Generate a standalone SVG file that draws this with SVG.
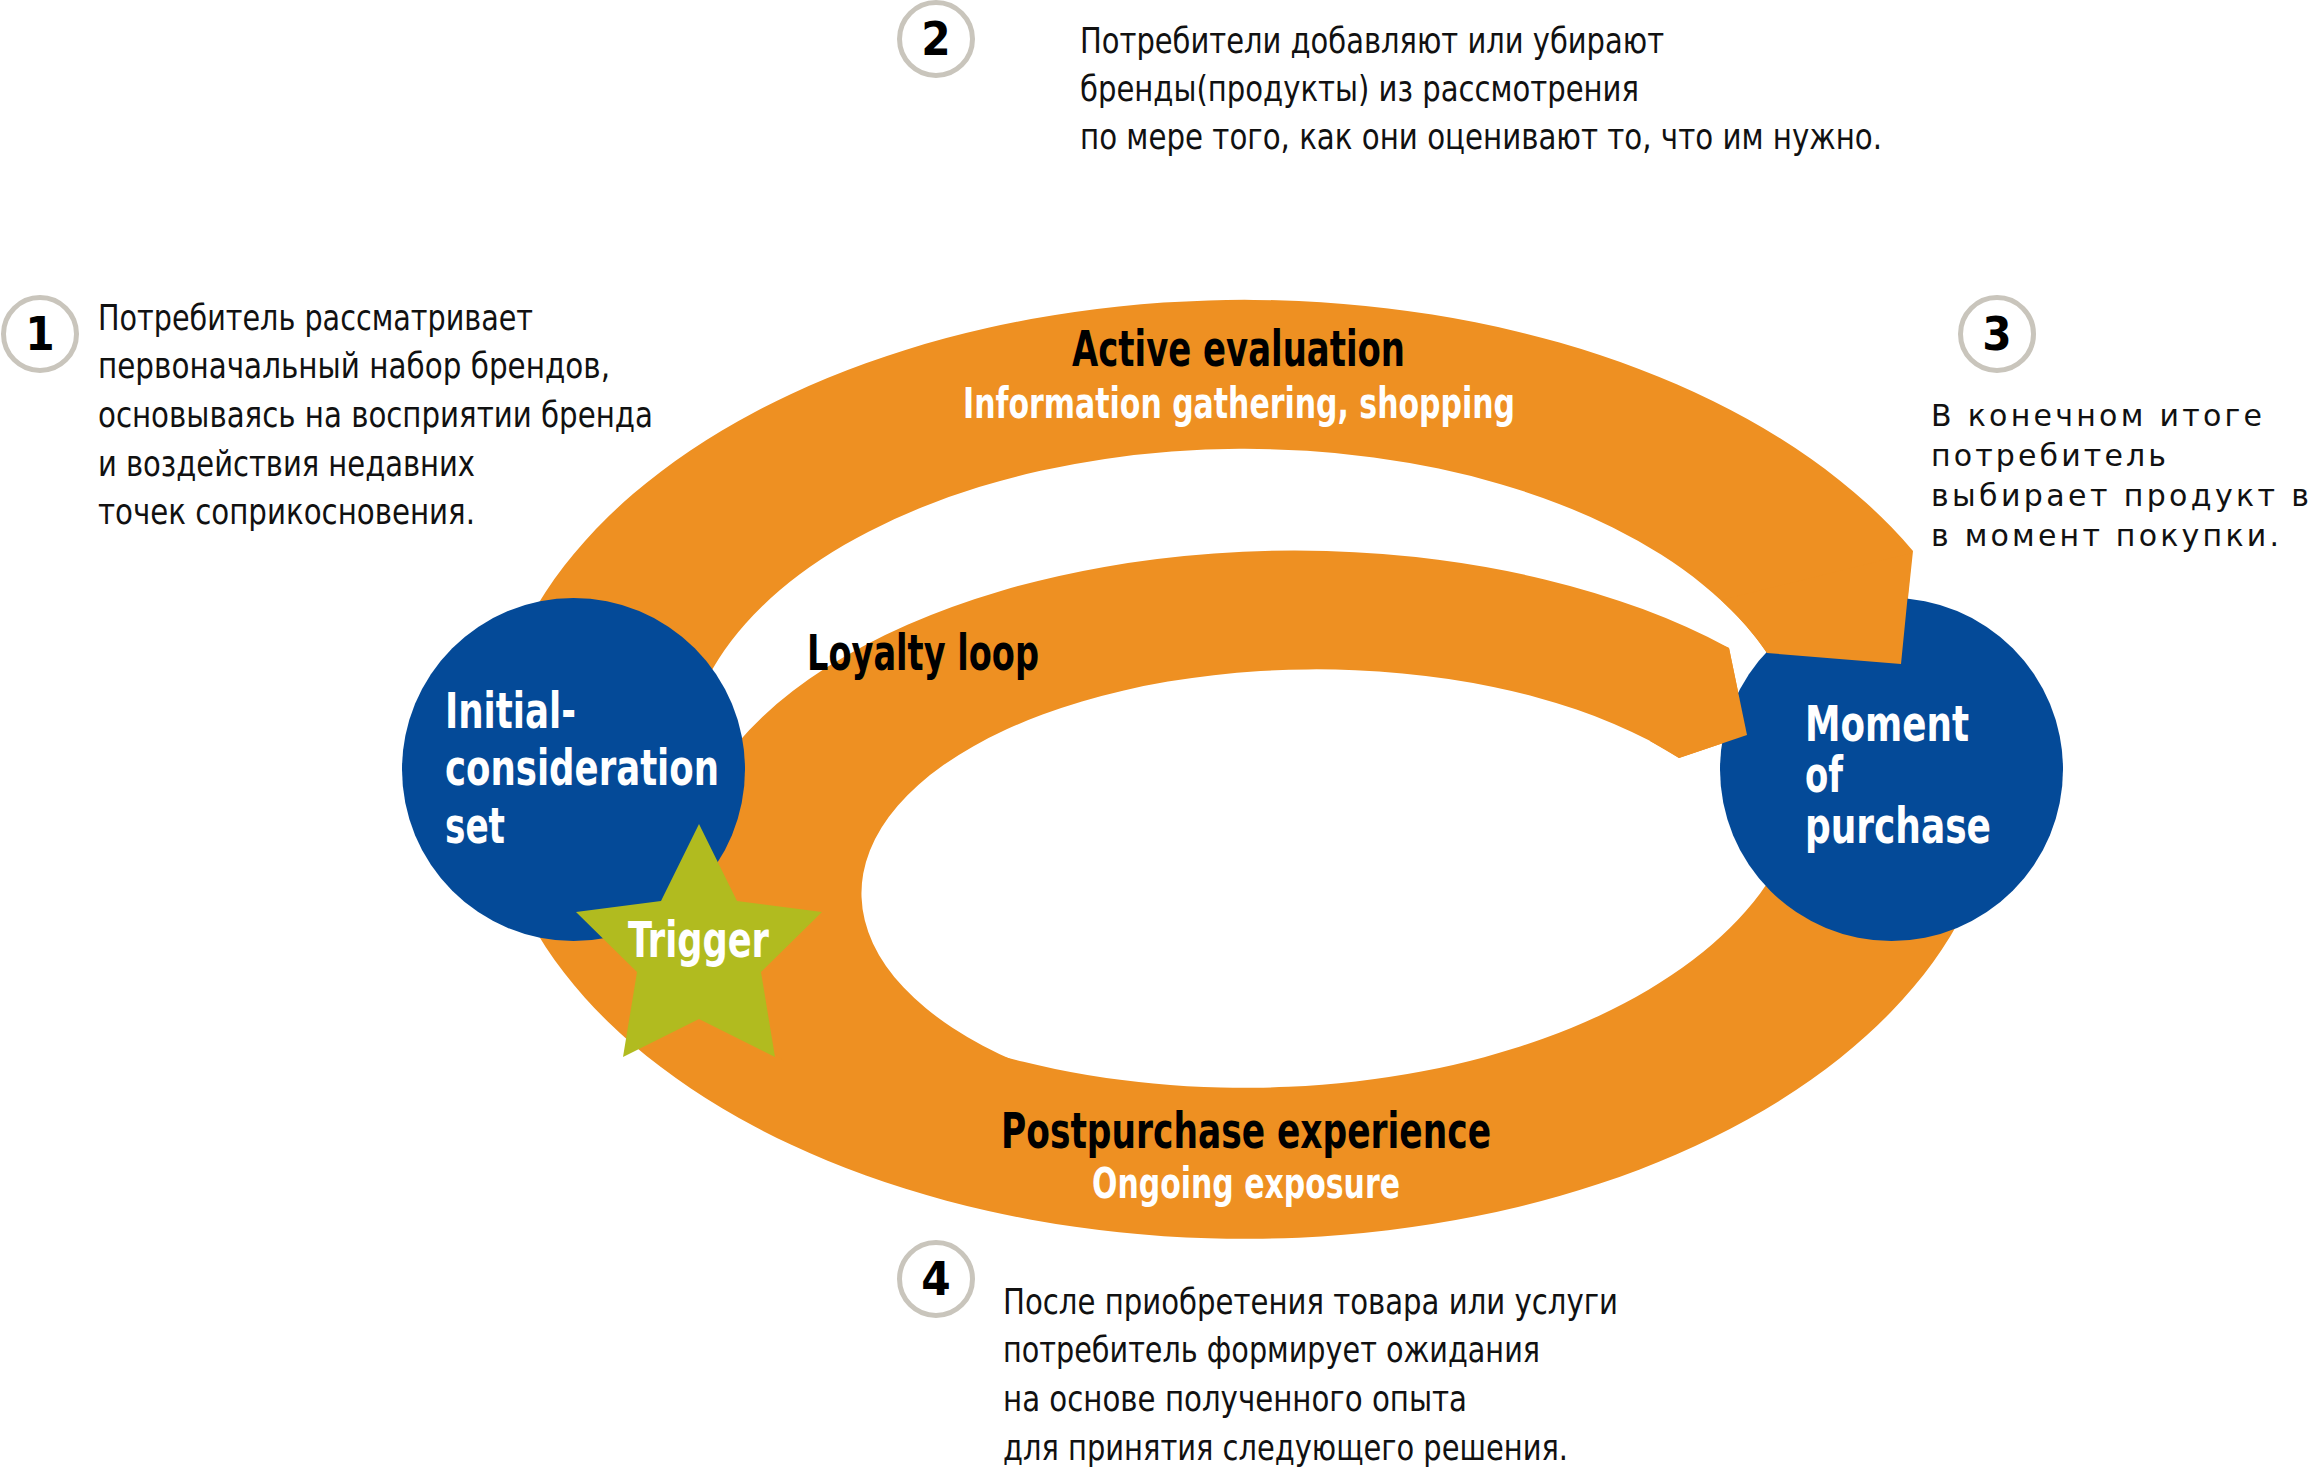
<svg xmlns="http://www.w3.org/2000/svg" width="2311" height="1468" viewBox="0 0 2311 1468">
<style>
.band{fill:#EE9022}
.node{fill:#044A98}
.star{fill:#B1BB1F}
.badge circle{fill:#FFFFFF;stroke:#C9C5BC;stroke-width:5}
.num{font-family:"Liberation Sans Narrow","DejaVu Sans Condensed","Liberation Sans",sans-serif;font-weight:bold;font-size:47px;text-anchor:middle;fill:#000}
.note{font-family:"Liberation Sans Narrow","DejaVu Sans Condensed","Liberation Sans",sans-serif;font-size:35px;fill:#111}
.note3{font-family:"DejaVu Sans","Liberation Sans",sans-serif;font-size:30px;fill:#111}
.lbl{font-family:"Liberation Sans Narrow","DejaVu Sans Condensed","Liberation Sans",sans-serif;font-weight:bold}
.big{font-size:50px;fill:#000}
.sub{font-size:43px;fill:#FFFFFF}
.in{font-size:49px;fill:#FFFFFF}
</style>
<rect width="2311" height="1468" fill="#FFFFFF"/>

<g id="connectors">
  <path id="outer-cycle" class="band" d="M1913,551 A755,469.5 0 1 0 1998,800 L1802,800 A560,319.5 0 1 1 1767,653 L1901,664 Z"/>
  <path id="loyalty-loop" class="band" d="M785,1062 A612,329 0 0 1 1729,648 L1747,735 L1679,758 A455,224 0 1 0 1017,1062 Z"/>
</g>

<g id="node-initial">
  <circle class="node" cx="573.5" cy="769.5" r="171.5"/>
</g>
<g id="node-moment">
  <circle class="node" cx="1891.5" cy="769.5" r="171.5"/>
</g>

<g id="connector-tips">
  <path class="band" d="M1912,553 L1901,664 L1767,653 A560,319.5 0 0 0 1721,600 Z"/>
  <path class="band" d="M1650,615 L1729,648 L1747,735 L1679,758 L1650,741 Z"/>
</g>

<g id="node-trigger">
  <polygon class="star" points="699,824 737,901 822,912 761,972 775,1057 699,1019 623,1057 637,972 576,912 661,901"/>
  <text class="lbl in" x="628" y="957" font-size="48" textLength="141" lengthAdjust="spacingAndGlyphs">Trigger</text>
</g>

<g id="node-initial-label">
  <text class="lbl in" x="445" y="728" textLength="131" lengthAdjust="spacingAndGlyphs">Initial-</text>
  <text class="lbl in" x="445" y="785" textLength="274" lengthAdjust="spacingAndGlyphs">consideration</text>
  <text class="lbl in" x="445" y="843" textLength="60" lengthAdjust="spacingAndGlyphs">set</text>
</g>
<g id="node-moment-label">
  <text class="lbl in" x="1805" y="741" textLength="164" lengthAdjust="spacingAndGlyphs">Moment</text>
  <text class="lbl in" x="1805" y="792" textLength="38" lengthAdjust="spacingAndGlyphs">of</text>
  <text class="lbl in" x="1805" y="843" textLength="186" lengthAdjust="spacingAndGlyphs">purchase</text>
</g>

<g id="band-labels">
  <text class="lbl big" x="1072" y="366" textLength="333" lengthAdjust="spacingAndGlyphs">Active evaluation</text>
  <text class="lbl sub" x="963" y="418" textLength="552" lengthAdjust="spacingAndGlyphs">Information gathering, shopping</text>
  <text class="lbl big" x="807" y="670" textLength="232" lengthAdjust="spacingAndGlyphs">Loyalty loop</text>
  <text class="lbl big" x="1001" y="1148" textLength="490" lengthAdjust="spacingAndGlyphs">Postpurchase experience</text>
  <text class="lbl sub" x="1092" y="1198" textLength="308" lengthAdjust="spacingAndGlyphs">Ongoing exposure</text>
</g>

<g id="step-1" class="badge">
  <circle cx="40" cy="334" r="36.5"/>
  <text class="num" x="40" y="350">1</text>
</g>
<g id="step-2" class="badge">
  <circle cx="936" cy="39" r="36.5"/>
  <text class="num" x="936" y="55">2</text>
</g>
<g id="step-3" class="badge">
  <circle cx="1997" cy="334" r="36.5"/>
  <text class="num" x="1997" y="350">3</text>
</g>
<g id="step-4" class="badge">
  <circle cx="936" cy="1279" r="36.5"/>
  <text class="num" x="936" y="1295">4</text>
</g>

<g id="note-1">
  <text class="note" x="98" y="330" textLength="435" lengthAdjust="spacingAndGlyphs">Потребитель рассматривает</text>
  <text class="note" x="98" y="378" textLength="512" lengthAdjust="spacingAndGlyphs">первоначальный набор брендов,</text>
  <text class="note" x="98" y="427" textLength="555" lengthAdjust="spacingAndGlyphs">основываясь на восприятии бренда</text>
  <text class="note" x="98" y="476" textLength="377" lengthAdjust="spacingAndGlyphs">и воздействия недавних</text>
  <text class="note" x="98" y="524" textLength="377" lengthAdjust="spacingAndGlyphs">точек соприкосновения.</text>
</g>
<g id="note-2">
  <text class="note" x="1080" y="53" textLength="584" lengthAdjust="spacingAndGlyphs">Потребители добавляют или убирают</text>
  <text class="note" x="1080" y="101" textLength="559" lengthAdjust="spacingAndGlyphs">бренды(продукты) из рассмотрения</text>
  <text class="note" x="1080" y="149" textLength="802" lengthAdjust="spacingAndGlyphs">по мере того, как они оценивают то, что им нужно.</text>
</g>
<g id="note-3">
  <text class="note3" x="1931" y="426" textLength="331" lengthAdjust="spacing">В конечном итоге</text>
  <text class="note3" x="1931" y="466" textLength="235" lengthAdjust="spacing">потребитель</text>
  <text class="note3" x="1931" y="506" textLength="378" lengthAdjust="spacing">выбирает продукт в</text>
  <text class="note3" x="1931" y="546" textLength="348" lengthAdjust="spacing">в момент покупки.</text>
</g>
<g id="note-4">
  <text class="note" x="1003" y="1314" textLength="615" lengthAdjust="spacingAndGlyphs">После приобретения товара или услуги</text>
  <text class="note" x="1003" y="1362" textLength="537" lengthAdjust="spacingAndGlyphs">потребитель формирует ожидания</text>
  <text class="note" x="1003" y="1411" textLength="464" lengthAdjust="spacingAndGlyphs">на основе полученного опыта</text>
  <text class="note" x="1003" y="1460" textLength="565" lengthAdjust="spacingAndGlyphs">для принятия следующего решения.</text>
</g>
</svg>
